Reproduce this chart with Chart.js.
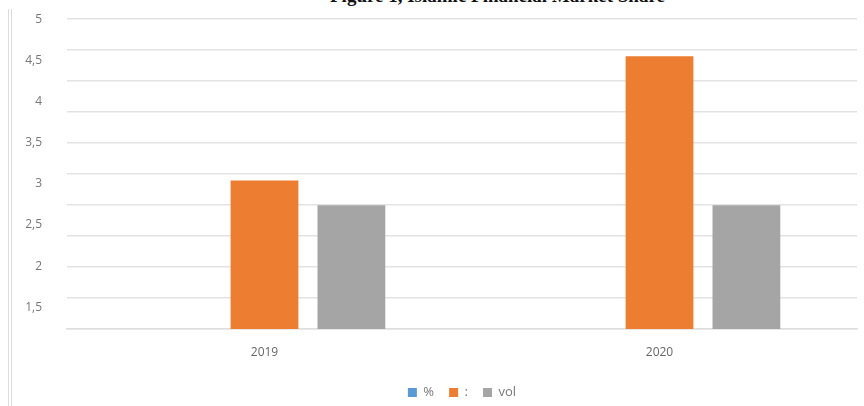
<!DOCTYPE html>
<html lang="en">
  <head>
    <meta charset="UTF-8" />
    <title>Figure 1, Islamic Financial Market Share</title>
    <style>
      html, body { margin: 0; padding: 0; background: #fff; }
      #wrap { position: relative; width: 864px; height: 406px; overflow: hidden; }
      #title {
        position: absolute; top: -15px; left: 330px;
        font: bold 19px "Liberation Serif", serif; color: #111; white-space: nowrap;
      }
      #edge {
        position: absolute; left: 8px; top: 9px; bottom: 0;
        border-left: 4px double #dcdcdc;
      }
      #box { position: absolute; left: 0; top: -5px; width: 864px; height: 414px; }
    </style>
  </head>
  <body>
    <div id="wrap">
      <div id="title">Figure 1, Islamic Financial Market Share</div>
      <div id="edge"></div>
      <div id="box"><canvas id="myChart"></canvas></div>
    </div>

    <script src="https://cdn.jsdelivr.net/npm/chart.js"></script>
    <script>
      // values
      const years = ["2019", "2020"];
      const pct = [null, null];
      const colon = [3.04, 4.55];
      const vol = [2.74, 2.74];
      const seriesNames = ["%", ":", "vol"];
      const yMin = 1.236;
      const yMax = 5;

      const tickFont = { family: "'Open Sans', 'Liberation Sans', sans-serif", size: 12 };

      const ctx = document.getElementById("myChart");
      const mychart = new Chart(ctx, {
        type: "bar",
        data: {
          labels: years,
          datasets: [
            { label: seriesNames[0], data: pct, backgroundColor: "#5b9bd5" },
            { label: seriesNames[1], data: colon, backgroundColor: "#ed7d31" },
            { label: seriesNames[2], data: vol, backgroundColor: "#a5a5a5" },
          ],
        },
        options: {
          responsive: true,
          maintainAspectRatio: false,
          animation: false,
          layout: { padding: { top: 7, right: 0, bottom: 0, left: 0 } },
          datasets: { bar: { categoryPercentage: 0.66, barPercentage: 0.78 } },
          plugins: {
            tooltip: { enabled: false },
            legend: {
              position: "bottom",
              fullSize: false,
              labels: {
                boxWidth: 9,
                boxHeight: 9,
                padding: 15,
                color: "#777",
                font: { family: "'Open Sans', 'Liberation Sans', sans-serif", size: 13 },
              },
            },
          },
          scales: {
            x: {
              grid: { display: false },
              border: { display: true, color: "#dedede", width: 1.5 },
              ticks: { color: "#666", font: tickFont, padding: 8 },
              afterFit: (s) => { s.height = 42; },
            },
            y: {
              position: "left",
              min: yMin,
              max: yMax,
              grid: { display: false },
              border: { display: false },
              ticks: {
                stepSize: 0.5,
                color: "#777",
                font: tickFont,
                padding: 17,
                callback: (v) => {
                  if (Math.abs(v * 2 - Math.round(v * 2)) > 1e-6) return "";
                  return String(v).replace(".", ",");
                },
              },
              afterFit: (s) => { s.width = 67; },
            },
            y2: {
              position: "right",
              min: 0,
              max: 10,
              grid: { color: "#e3e3e3", lineWidth: 1.5, drawTicks: false },
              border: { display: false },
              ticks: { display: false, stepSize: 1 },
              afterFit: (s) => { s.width = 7; },
            },
          },
        },
      });
    </script>
  </body>
</html>
